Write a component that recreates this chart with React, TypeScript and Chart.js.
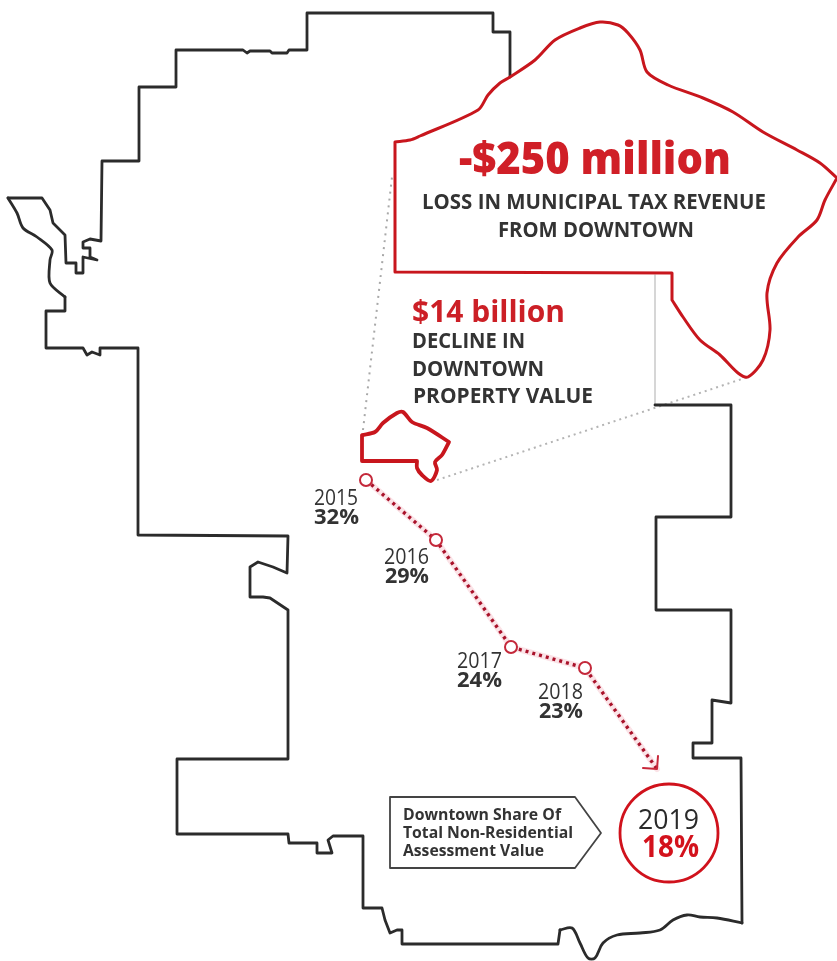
import React, { useEffect, useRef } from "react";
import { Chart, registerables } from "chart.js";

Chart.register(...registerables);

const years = ["2015", "2016", "2017", "2018", "2019"];
const shares = [32, 29, 24, 23, 18];
const shareX = [366, 436, 511, 585, 669];
const shareY = [480, 540, 647, 668, 833];
const arrowTip = { x: 657, y: 769 };
const arrowWings = [
  { x: 643, y: 768 },
  { x: 657, y: 769 },
  { x: 658, y: 756 },
];

const cityEast: [number, number][] = [
  [655, 405], [731, 405], [731, 517], [656, 517], [656, 610], [731, 610], [731, 703], [712, 700], [712, 743],
  [693, 743], [693, 758], [741, 758], [742, 923],
];
const citySouthWave: [number, number][] = [
  [742, 923], [742, 923], [717, 918], [700, 917], [687, 915], [673, 920], [660, 930],
  [640, 933], [617, 935], [603, 943], [595, 958], [588, 958], [580, 943], [572, 928], [560, 930], [560, 930],
];
const citySouthWest: [number, number][] = [
  [560, 930], [558, 944], [402, 944], [402, 930], [397, 930], [390, 933], [385, 920], [382, 908], [363, 908],
  [363, 836], [333, 836], [328, 840], [332, 853], [317, 853], [317, 843], [289, 843], [288, 834], [177, 834],
  [177, 759], [288, 759], [288, 610], [270, 598], [263, 597], [250, 597], [250, 567], [258, 562], [273, 567],
  [287, 573], [288, 536], [138, 535], [138, 348], [100, 348], [100, 355], [92, 352], [87, 355], [83, 348],
  [46, 348], [46, 311], [65, 311], [65, 297],
];
const cityRiver: [number, number][] = [
  [65, 297], [65, 297], [50, 283], [50, 260], [52, 250], [37, 237], [23, 228], [17, 213], [8, 198], [8, 198],
];
const cityNorthWest: [number, number][] = [
  [8, 198], [42, 198], [50, 210], [53, 223], [65, 235], [66, 263], [76, 263], [76, 273], [83, 273], [83, 257],
  [97, 260], [90, 257], [90, 248], [83, 248], [83, 242], [90, 239], [101, 241], [102, 161], [139, 161], [139, 87],
  [176, 87], [176, 50], [243, 50], [247, 53], [250, 51], [270, 51], [272, 53], [287, 53], [289, 50], [307, 50],
  [307, 13], [493, 13], [493, 32], [510, 32], [510, 77],
];

const downtownZoom: [number, number][] = [
  [395, 272], [395, 272], [395, 142], [395, 142], [410, 140], [420, 136], [478, 110], [488, 95], [500, 83],
  [510, 77], [535, 60], [555, 40], [580, 28], [600, 22], [618, 25], [628, 33], [640, 50], [647, 72], [668, 85],
  [703, 98], [733, 112], [763, 132], [797, 150], [820, 163], [837, 178], [837, 178], [825, 200], [817, 220],
  [798, 237], [777, 263], [767, 293], [770, 330], [763, 360], [748, 377], [738, 373], [720, 355], [700, 340],
  [683, 317], [672, 300], [672, 300], [672, 273], [672, 273], [395, 272], [395, 272],
];

const downtownSmall: [number, number][] = [
  [362, 461], [362, 461], [362, 435], [362, 435], [375, 432], [383, 423], [397, 413], [403, 412], [412, 422],
  [427, 428], [449, 442], [449, 442], [442, 455], [435, 462], [437, 470], [431, 481], [422, 475], [417, 468],
  [417, 461], [417, 461], [362, 461], [362, 461],
];

const guideLeft: [number, number][] = [[363, 430], [392, 177]];
const guideRight: [number, number][] = [[437, 480], [748, 377]];
const guideSolid: [number, number][] = [[655, 275], [655, 405]];
const callout: [number, number][] = [[390, 797], [575, 797], [601, 833], [575, 868], [390, 868], [390, 797]];

const headline = "-$250 million";
const headlineSub = ["LOSS IN MUNICIPAL TAX REVENUE", "FROM DOWNTOWN"];
const decline = "$14 billion";
const declineSub = ["DECLINE IN", "DOWNTOWN", "PROPERTY VALUE"];
const calloutText = ["Downtown Share Of", "Total Non-Residential", "Assessment Value"];

const toPts = (a: [number, number][]) => a.map(([x, y]) => ({ x, y }));
const RED = "#c8161d";
const DARK = "#2b2b2b";
const FONT = '"Open Sans", sans-serif';

type Label = { t: string; x: number; y: number; w: number; font: string; color: string };
const labels: Label[] = [
  { t: headline, x: 459, y: 174, w: 272, font: `800 44px ${FONT}`, color: "#d01f27" },
  { t: headlineSub[0], x: 422, y: 209, w: 344, font: `700 21.5px ${FONT}`, color: "#333" },
  { t: headlineSub[1], x: 498, y: 237, w: 196, font: `700 21.5px ${FONT}`, color: "#333" },
  { t: decline, x: 412, y: 322, w: 153, font: `700 31px ${FONT}`, color: "#cc1f26" },
  { t: declineSub[0], x: 412, y: 348, w: 113, font: `700 21px ${FONT}`, color: "#333" },
  { t: declineSub[1], x: 412, y: 376, w: 132, font: `700 21px ${FONT}`, color: "#333" },
  { t: declineSub[2], x: 413, y: 403, w: 180, font: `700 21px ${FONT}`, color: "#333" },
  { t: years[0], x: 314, y: 505, w: 44, font: `400 21px ${FONT}`, color: "#333" },
  { t: `${shares[0]}%`, x: 314, y: 524, w: 45, font: `700 22px ${FONT}`, color: "#333" },
  { t: years[1], x: 384, y: 564, w: 45, font: `400 21px ${FONT}`, color: "#333" },
  { t: `${shares[1]}%`, x: 385, y: 583, w: 44, font: `700 22px ${FONT}`, color: "#333" },
  { t: years[2], x: 457, y: 668, w: 45, font: `400 21px ${FONT}`, color: "#333" },
  { t: `${shares[2]}%`, x: 457, y: 687, w: 45, font: `700 22px ${FONT}`, color: "#333" },
  { t: years[3], x: 538, y: 699, w: 45, font: `400 21px ${FONT}`, color: "#333" },
  { t: `${shares[3]}%`, x: 539, y: 718, w: 44, font: `700 22px ${FONT}`, color: "#333" },
  { t: years[4], x: 638, y: 829, w: 61, font: `400 28px ${FONT}`, color: "#2a2a2a" },
  { t: `${shares[4]}%`, x: 642, y: 857, w: 57, font: `700 30px ${FONT}`, color: "#d3121c" },
  { t: calloutText[0], x: 403, y: 820, w: 158, font: `700 16px ${FONT}`, color: "#333" },
  { t: calloutText[1], x: 403, y: 838, w: 170, font: `700 16px ${FONT}`, color: "#333" },
  { t: calloutText[2], x: 403, y: 856, w: 141, font: `700 16px ${FONT}`, color: "#333" },
];

const textPlugin = {
  id: "mapText",
  afterDatasetsDraw(chart: any) {
    const { ctx, scales } = chart;
    ctx.save();
    ctx.textAlign = "left";
    ctx.textBaseline = "alphabetic";
    for (const l of labels) {
      ctx.font = l.font;
      ctx.fillStyle = l.color;
      ctx.fillText(l.t, scales.x.getPixelForValue(l.x), scales.y.getPixelForValue(l.y), l.w);
    }
    ctx.restore();
  },
};

export default function App() {
  const ref = useRef<HTMLCanvasElement>(null);
  useEffect(() => {
    const line = (data: any[], color: string, width: number, extra: any = {}) => ({
      data,
      showLine: true,
      borderColor: color,
      borderWidth: width,
      pointRadius: 0,
      tension: 0,
      borderJoinStyle: "round",
      borderCapStyle: "round",
      fill: false,
      ...extra,
    });
    const trendPts = [0, 1, 2, 3].map((i) => ({ x: shareX[i], y: shareY[i] }));
    const chart = new Chart(ref.current as HTMLCanvasElement, {
      type: "scatter",
      data: {
        datasets: [
          {
            data: trendPts,
            showLine: false,
            pointRadius: 6,
            pointBackgroundColor: "#fff",
            pointBorderColor: "#c4283a",
            pointBorderWidth: 2,
          },
          {
            data: [{ x: shareX[4], y: shareY[4] }],
            showLine: false,
            pointRadius: 49,
            pointBackgroundColor: "#fff",
            pointBorderColor: "#d0121c",
            pointBorderWidth: 2.8,
          },
          line(arrowWings, "#c8283a", 2),
          line([...trendPts, arrowTip], "#a9122a", 3.4, { borderDash: [3, 4], borderCapStyle: "butt" }),
          line([...trendPts, arrowTip], "#fbe3e7", 6),
          line(toPts(downtownSmall), RED, 3.8, { tension: 0.3 }),
          line(toPts(downtownZoom), RED, 3, { tension: 0.3 }),
          line(toPts(callout), "#444", 1.8),
          line(toPts(cityEast), DARK, 2.8),
          line(toPts(citySouthWave), DARK, 2.8, { tension: 0.35 }),
          line(toPts(citySouthWest), DARK, 2.8),
          line(toPts(cityRiver), DARK, 2.8, { tension: 0.3 }),
          line(toPts(cityNorthWest), DARK, 2.8),
          line(toPts(guideSolid), "#c9c9c9", 1.5),
          line(toPts(guideLeft), "#a8a8a8", 2, { borderDash: [2, 5], borderCapStyle: "butt" }),
          line(toPts(guideRight), "#b4b4b4", 2, { borderDash: [2, 4], borderCapStyle: "butt" }),
        ],
      },
      options: {
        animation: false,
        responsive: false,
        events: [],
        layout: { padding: 0, autoPadding: false },
        clip: false,
        plugins: { legend: { display: false }, tooltip: { enabled: false } },
        scales: {
          x: { type: "linear", display: false, min: 0, max: 837 },
          y: { type: "linear", display: false, min: 0, max: 961, reverse: true },
        },
      } as any,
      plugins: [textPlugin],
    });
    return () => chart.destroy();
  }, []);
  return (
    <div style={{ position: "absolute", left: 0, top: 0, width: 837, height: 961, background: "#fff" }}>
      <canvas ref={ref} width={837} height={961} style={{ display: "block" }} />
    </div>
  );
}
